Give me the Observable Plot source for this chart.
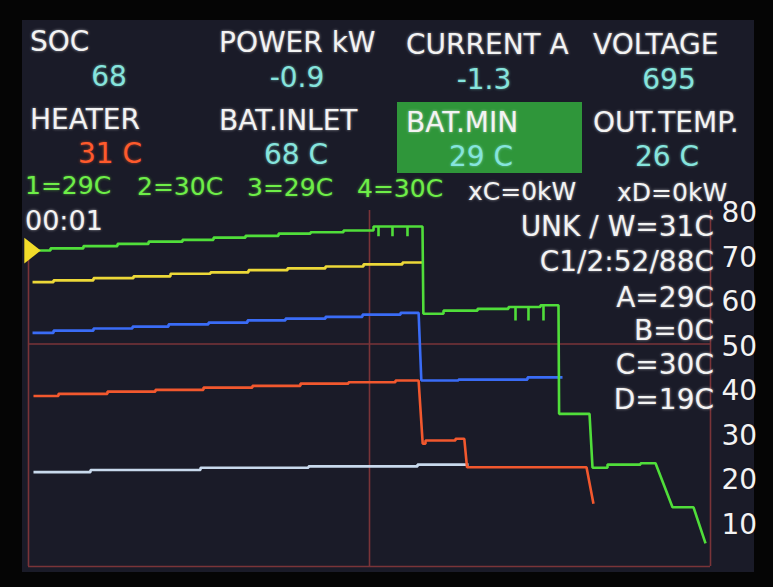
<!DOCTYPE html>
<html>
<head>
<meta charset="utf-8">
<script src="https://cdn.jsdelivr.net/npm/d3@7"></script>
<script src="https://cdn.jsdelivr.net/npm/@observablehq/plot@0.6"></script>
<style>
  html, body { margin: 0; padding: 0; background: #050505; }
  #stage { position: relative; width: 773px; height: 587px; background: #050505; overflow: hidden; }
  #screen { position: absolute; left: 22px; top: 20px; width: 732px; height: 552px; background: #1a1b28; }
  #box { position: absolute; left: 397px; top: 102px; width: 185px; height: 71px; background: #2f963a; }
  .t { position: absolute; white-space: pre; font-family: "DejaVu Sans", sans-serif; }
  #chart { position: absolute; left: 0; top: 0; }
</style>
</head>
<body>
<div id="stage">
  <div id="screen"></div>
  <div id="box"></div>
  <div id="chart"></div>
</div>
<script>
// ---- texts ----
const header1Labels = ["SOC", "POWER kW", "CURRENT A", "VOLTAGE"];
const header1Values = ["68", "-0.9", "-1.3", "695"];
const header2Labels = ["HEATER", "BAT.INLET", "BAT.MIN", "OUT.TEMP."];
const header2Values = ["31 C", "68 C", "29 C", "26 C"];
const cellTemps = ["1=29C", "2=30C", "3=29C", "4=30C"];
const powerLabels = ["xC=0kW", "xD=0kW"];
const timeLabel = "00:01";
const sideLabels = ["UNK / W=31C", "C1/2:52/88C", "A=29C", "B=0C", "C=30C", "D=19C"];
const yTicks = [10, 20, 30, 40, 50, 60, 70, 80];
const gridX = [0, 50, 100];
const gridY = [0, 50];

// ---- traces: [time, temperature] vertices ----
const green = [[0.59,71.0],[3.23,71.0],[3.23,71.5],[8.06,71.5],[8.06,72.0],[13.05,72.0],[13.05,72.5],[17.60,72.5],[17.60,73.0],[22.58,73.0],[22.58,73.4],[27.13,73.4],[27.13,73.9],[31.82,73.9],[31.82,74.3],[36.66,74.3],[36.66,74.8],[41.35,74.8],[41.35,75.1],[46.19,75.1],[46.19,75.5],[50.59,75.5],[50.59,76.4],[51.32,76.4],[51.32,74.2],[51.32,76.4],[53.37,76.4],[53.37,74.2],[53.37,76.4],[55.57,76.4],[55.57,74.2],[55.57,76.4],[57.77,76.4],[57.9,56.8],[60.85,56.8],[60.85,57.5],[65.84,57.5],[65.84,57.9],[70.38,57.9],[70.38,58.3],[71.41,58.3],[71.41,55.3],[71.41,58.3],[73.31,58.3],[73.31,55.3],[73.31,58.3],[75.07,58.3],[75.07,58.7],[75.51,58.7],[75.51,55.3],[75.51,58.7],[77.71,58.7],[77.8,34.3],[82.26,34.3],[82.70,22.2],[84.90,22.2],[84.90,22.9],[89.74,22.9],[89.74,23.2],[91.94,23.2],[94.43,13.3],[97.51,13.3],[99.27,5.2]];
const yellow = [[0.59,63.9],[3.67,63.9],[3.67,64.3],[9.53,64.3],[9.53,64.8],[15.40,64.8],[15.40,65.2],[20.82,65.2],[20.82,65.8],[26.69,65.8],[26.69,66.1],[32.26,66.1],[32.26,66.6],[37.98,66.6],[37.98,67.0],[43.55,67.0],[43.55,67.4],[49.12,67.4],[49.12,67.9],[54.84,67.9],[54.84,68.3],[57.77,68.3]];
const blue = [[0.59,52.5],[3.67,52.5],[3.67,53.0],[9.53,53.0],[9.53,53.5],[15.25,53.5],[15.25,53.9],[20.53,53.9],[20.53,54.4],[26.39,54.4],[26.39,54.8],[32.11,54.8],[32.11,55.3],[37.68,55.3],[37.68,55.7],[43.55,55.7],[43.55,56.1],[48.97,56.1],[48.97,56.6],[54.55,56.6],[54.55,57.0],[57.2,57.0],[57.6,41.8],[63.05,41.8],[63.05,42.0],[73.17,42.0],[73.17,42.5],[78.3,42.5]];
const red = [[0.73,38.3],[4.40,38.3],[4.40,38.8],[11.58,38.8],[11.58,39.3],[18.62,39.3],[18.62,39.7],[25.66,39.7],[25.66,40.2],[32.84,40.2],[32.84,40.6],[39.88,40.6],[39.88,41.1],[46.92,41.1],[46.92,41.4],[53.81,41.4],[53.81,41.8],[57.2,41.8],[57.8,27.6],[58.21,27.6],[58.21,28.3],[62.61,28.3],[62.61,28.7],[63.9,28.7],[64.3,22.3],[81.82,22.3],[82.84,14.1]];
const lightBlue = [[0.73,21.2],[9.09,21.2],[9.09,21.7],[25.22,21.7],[25.22,22.2],[41.06,22.2],[41.06,22.5],[57.04,22.5],[57.04,22.9],[64.52,22.9]];

const stage = document.getElementById("stage");
function put(text, o) {
  const size = o.size || 28;
  const color = o.color || "#f3f3f3";
  const d = document.createElement("div");
  d.className = "t";
  d.textContent = text;
  d.style.fontSize = size + "px";
  d.style.lineHeight = size + "px";
  d.style.color = color;
  d.style.textShadow = `0 0 3px ${color}99`;
  d.style.top = (o.top - 0.118 * size) + "px";
  if (o.center != null) { d.style.left = o.center + "px"; d.style.transform = "translateX(-50%)"; }
  else if (o.right != null) { d.style.right = (773 - o.right) + "px"; d.style.textAlign = "right"; }
  else d.style.left = o.left + "px";
  stage.appendChild(d);
}

const colLeft = [30, 219, 406, 593];
const colShift = [0, 1, 3, 3];
const valCenter = [109, 297, 484, 669];
const val2Center = [110, 296, 481, 667];
const cyan = "#86e4dc";
header1Labels.forEach((s, i) => put(s, {left: colLeft[i], top: 31 + colShift[i]}));
header1Values.forEach((s, i) => put(s, {center: valCenter[i], top: 66 + colShift[i], color: cyan}));
header2Labels.forEach((s, i) => put(s, {left: colLeft[i] + (i === 2 ? 0 : 0), top: 109 + colShift[i]}));
header2Values.forEach((s, i) => put(s, {center: val2Center[i], top: 143 + colShift[i], color: i === 0 ? "#ff5a2c" : cyan}));
const cellLeft = [25, 137, 247, 357];
cellTemps.forEach((s, i) => put(s, {left: cellLeft[i], top: 176 + i, size: 25, color: "#6eee48"}));
const pwrLeft = [468, 617];
powerLabels.forEach((s, i) => put(s, {left: pwrLeft[i], top: 182 + i, size: 25}));
put(timeLabel, {left: 25, top: 210, size: 27});
const sideTop = [216, 251, 287, 320, 354, 389];
sideLabels.forEach((s, i) => put(s, {right: 714, top: sideTop[i], size: 28}));

// ---- chart ----
const frameColor = "#7a3438";
const triangle = {
  draw(ctx, size) {
    const s = Math.sqrt(size);
    ctx.moveTo(-0.42 * s, -0.66 * s);
    ctx.lineTo(0.42 * s, 0);
    ctx.lineTo(-0.42 * s, 0.66 * s);
    ctx.closePath();
  }
};
const lineOpts = {x: d => d[0], y: d => d[1], strokeWidth: 2.6, strokeLinejoin: "miter", strokeLinecap: "butt"};

const chart = Plot.plot({
  width: 773,
  height: 587,
  marginTop: 210,
  marginBottom: 21,
  marginLeft: 28,
  marginRight: 63,
  x: {domain: [0, 100], axis: null},
  y: {domain: [0, 80], axis: null},
  style: {background: "transparent", color: "#f3f3f3", fontFamily: "DejaVu Sans", overflow: "visible"},
  marks: [
    Plot.ruleY(gridY, {stroke: frameColor, strokeWidth: 1.6}),
    Plot.ruleX(gridX, {y1: 0, y2: x => x === 0 ? green[0][1] : 80, stroke: frameColor, strokeWidth: 1.6}),
    Plot.line(lightBlue, {...lineOpts, stroke: "#c8d9ec"}),
    Plot.line(red, {...lineOpts, stroke: "#f2582e"}),
    Plot.line(blue, {...lineOpts, stroke: "#3a6cf6"}),
    Plot.line(yellow, {...lineOpts, stroke: "#ecd838"}),
    Plot.line(green, {...lineOpts, stroke: "#50de3a"}),
    Plot.dot([green[0]], {x: d => d[0], y: d => d[1], symbol: triangle, r: 11, fill: "#f2dc2a", stroke: "none"}),
    Plot.axisY(yTicks, {anchor: "right", tickSize: 0, tickPadding: 11, fontSize: 28, dy: 3, tickFormat: d => String(d), label: null})
  ]
});
document.getElementById("chart").appendChild(chart);
</script>
</body>
</html>
